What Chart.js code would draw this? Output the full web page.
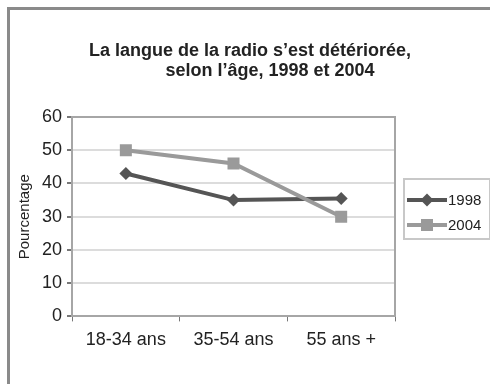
<!DOCTYPE html>
<html>
<head>
<meta charset="utf-8">
<script src="https://cdn.jsdelivr.net/npm/chart.js@4.4.0/dist/chart.umd.min.js"></script>
<style>
  body { margin: 0; background: #fff; }
  canvas { display: block; }
</style>
</head>
<body>
<canvas id="chart" width="490" height="384"></canvas>
<script>
const ageGroups = ["18-34 ans", "35-54 ans", "55 ans +"];
const values1998 = [43, 35, 35.5];
const values2004 = [50, 46, 30];
const seriesNames = ["1998", "2004"];
const yMin = 0;
const yMax = 60;
const yStep = 10;

const FONT = "'Liberation Sans', Arial, sans-serif";
const colors = ["#555555", "#9a9a9a"];
const markers = [
  { pointStyle: "rectRot", radius: 6.5 },
  { pointStyle: "rect", radius: 8.5 }
];

// frame around the whole figure + top/right edges of the plot box
const framePlugin = {
  id: "frame",
  beforeDraw(chart) {
    const ctx = chart.ctx;
    ctx.save();
    ctx.fillStyle = "#fff";
    ctx.fillRect(0, 0, chart.width, chart.height);
    ctx.fillStyle = "#8a8a8a";
    ctx.fillRect(7, 7, chart.width, 3);
    ctx.fillRect(7, 7, 3, chart.height);
    ctx.restore();
  },
  beforeDatasetsDraw(chart) {
    const { ctx, chartArea: a } = chart;
    ctx.save();
    ctx.strokeStyle = "#a6a6a6";
    ctx.lineWidth = 2;
    ctx.beginPath();
    ctx.moveTo(a.left, a.top);
    ctx.lineTo(a.right, a.top);
    ctx.lineTo(a.right, a.bottom);
    ctx.stroke();
    ctx.restore();
  }
};

// boxed legend with line + marker samples
const boxLegend = {
  id: "boxLegend",
  afterDraw(chart) {
    const { ctx, chartArea: a } = chart;
    const left = a.right + 9, top = a.top + 62, w = 86, h = 60;
    ctx.save();
    ctx.strokeStyle = "#c8c8c8";
    ctx.lineWidth = 2;
    ctx.strokeRect(left, top, w, h);
    chart.data.datasets.forEach((ds, i) => {
      const y = top + 21 + i * 25;
      ctx.strokeStyle = ds.borderColor;
      ctx.lineWidth = 4;
      ctx.beginPath();
      ctx.moveTo(left + 3, y);
      ctx.lineTo(left + 43, y);
      ctx.stroke();
      ctx.fillStyle = ds.borderColor;
      Chart.helpers.drawPoint(ctx, {
        pointStyle: ds.pointStyle, radius: ds.pointRadius, rotation: 0, borderWidth: 0
      }, left + 23, y);
      ctx.fillStyle = "#222";
      ctx.font = "15px " + FONT;
      ctx.textBaseline = "middle";
      ctx.fillText(ds.label, left + 44, y + 1);
    });
    ctx.restore();
  }
};

const datasets = [values1998, values2004].map((vals, i) => ({
  label: seriesNames[i],
  data: vals,
  borderColor: colors[i],
  backgroundColor: colors[i],
  borderWidth: 4,
  tension: 0,
  pointStyle: markers[i].pointStyle,
  pointRadius: markers[i].radius,
  pointHoverRadius: markers[i].radius,
  pointBackgroundColor: colors[i],
  pointBorderWidth: 0,
  order: 1 - i
}));

new Chart(document.getElementById("chart"), {
  type: "line",
  data: { labels: ageGroups, datasets: datasets },
  plugins: [framePlugin, boxLegend],
  options: {
    responsive: false,
    animation: false,
    devicePixelRatio: 1,
    layout: { padding: { left: 10, right: 0, top: 0, bottom: 25 } },
    plugins: {
      legend: { display: false },
      tooltip: { enabled: false },
      title: {
        display: true,
        text: ["La langue de la radio s’est détériorée,",
               "\u00a0".repeat(8) + "selon l’âge, 1998 et 2004"],
        color: "#222",
        font: { family: FONT, size: 18, weight: "bold", lineHeight: 20 / 18 },
        padding: { top: 41, bottom: 36 }
      }
    },
    scales: {
      x: {
        offset: true,
        grid: { offset: true, drawOnChartArea: false, tickLength: 5, tickColor: "#777" },
        border: { color: "#a6a6a6", width: 2 },
        ticks: { color: "#222", padding: 8, maxRotation: 0, font: { family: FONT, size: 18 } }
      },
      y: {
        min: yMin,
        max: yMax,
        ticks: { stepSize: yStep, color: "#222", padding: 5, font: { family: FONT, size: 18 } },
        grid: { color: "#dcdcdc", lineWidth: 2, tickLength: 5, tickColor: "#777" },
        border: { color: "#a6a6a6", width: 2 },
        title: {
          display: true,
          text: "Pourcentage",
          color: "#222",
          font: { family: FONT, size: 15 },
          padding: { top: 6, bottom: 3 }
        }
      },
      legendSpace: {
        position: "right",
        display: true,
        ticks: { display: false },
        grid: { display: false },
        border: { display: false },
        afterFit(scale) { scale.width = 95; }
      }
    }
  }
});
</script>
</body>
</html>
